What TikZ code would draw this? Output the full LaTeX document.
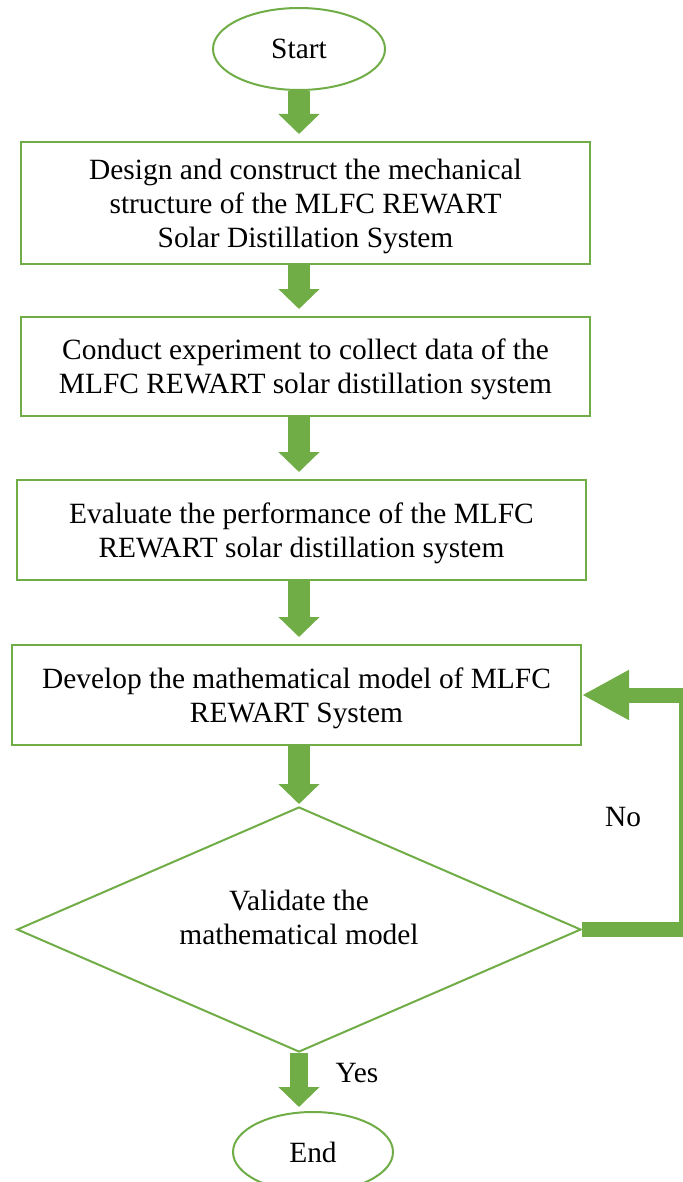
\documentclass[tikz,border=0pt]{standalone}
\usepackage{fontspec}
\setmainfont{Liberation Serif}
\usepackage{tikz}
\usetikzlibrary{arrows.meta}
\usetikzlibrary{shapes.geometric}
\definecolor{leaf}{RGB}{112,173,71}
\tikzstyle{chart}=[x=0.5pt, y=-0.5pt, font=\fontsize{14.7}{17}\selectfont]
\tikzstyle{term}=[ellipse, draw=leaf, line width=1pt, fill=white, inner sep=0pt]
\tikzstyle{stage}=[rectangle, draw=leaf, line width=1pt, fill=white, align=center, inner sep=0pt, minimum width=284.5pt, text depth=-0.8pt]
\tikzstyle{check}=[diamond, aspect=2.3, draw=leaf, line width=1pt, fill=white, align=center, inner sep=0pt, minimum width=282pt, minimum height=122.5pt, text depth=12pt]
\tikzstyle{flow}=[draw=leaf, line width=11pt, -{Triangle[length=10pt, width=20pt]}, shorten >=3.5pt]
\tikzstyle{back}=[draw=leaf, line width=7.5pt, -{Triangle[length=23.5pt, width=23.5pt]}]
\tikzstyle{tag}=[inner sep=1pt]
\begin{document}
\begin{tikzpicture}[chart]
	\useasboundingbox (0,0) rectangle (683,1182);
	%%
	\draw (299,49) node[term, minimum width=86pt, minimum height=41pt] (start) {Start};
	%%
	\draw (305.5,203) node[stage, minimum height=61pt] (b1) {Design and construct the mechanical\\structure of the MLFC REWART\\Solar Distillation System};
	\draw (305.5,366.5) node[stage, minimum height=49.5pt] (b2) {Conduct experiment to collect data of the\\MLFC REWART solar distillation system};
	\draw (301.5,530) node[stage, minimum height=50pt] (b3) {Evaluate the performance of the MLFC\\REWART solar distillation system};
	\draw (296.5,695) node[stage, minimum height=50pt] (b4) {Develop the mathematical model of MLFC\\REWART System};
	%%
	\draw (299,929.5) node[check] (val) {Validate the\\mathematical model};
	%%
	\draw (313,1152) node[term, minimum width=80pt, minimum height=40pt] (end) {End};
	%%%%%%
	\draw[flow] (start) -- (start |- b1.north);
	\draw[flow] (b1.south -| start) -- (b2.north -| start);
	\draw[flow] (b2.south -| start) -- (b3.north -| start);
	\draw[flow] (b3.south -| start) -- (b4.north -| start);
	\draw[flow, shorten >=1pt] (b4.south -| start) -- (val.north);
	\draw[flow, line width=9pt, shorten >=2pt] (val.south) -- (val.south |- end.north);
	%%
	\coordinate (turn) at (686,0);
	\draw[back] (val.east) -| (turn |- b4.east) -- (b4.east);
	%%%%%%
	\draw (623,817) node[tag] (no) {No};
	\draw (357,1073) node[tag] (yes) {Yes};
\end{tikzpicture}
\end{document}
